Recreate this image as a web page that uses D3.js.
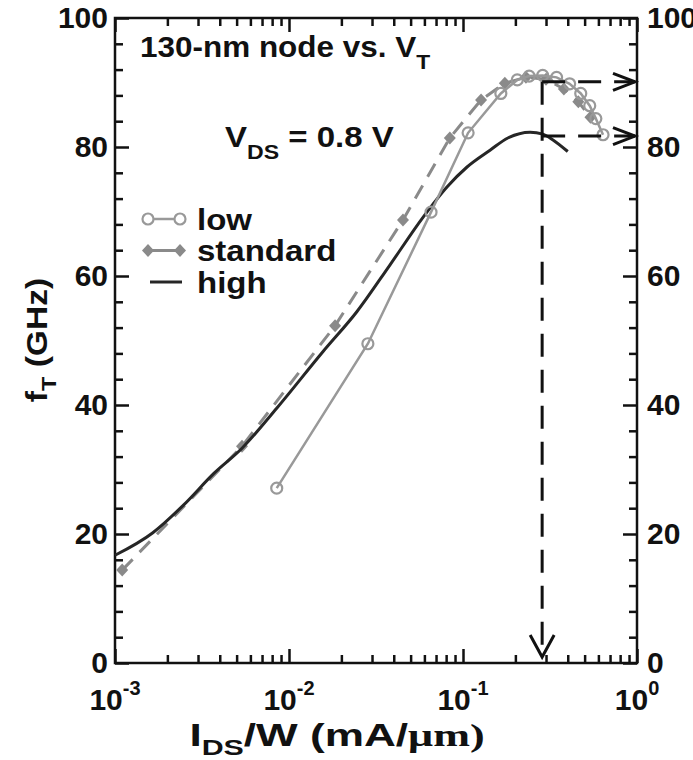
<!DOCTYPE html>
<html>
<head>
<meta charset="utf-8">
<script src="https://cdn.jsdelivr.net/npm/d3@7"></script>
<style>
  body { margin: 0; background: #fff; }
  svg text { font-family: "Liberation Sans", Arial, sans-serif; font-weight: bold; fill: #111; }
</style>
</head>
<body>
<svg width="693" height="760"></svg>
<script>
// ---- data ----
// low V_T : open circles, solid grey line
var lowI  = [0.0085, 0.0284, 0.0655, 0.107, 0.165, 0.205, 0.24, 0.287, 0.345, 0.41, 0.475, 0.535, 0.58, 0.638];
var lowF  = [27.1, 49.5, 69.9, 82.2, 88.3, 90.4, 91.0, 91.1, 90.8, 89.8, 88.3, 86.4, 84.4, 81.9];
// standard V_T : filled diamonds, dashed grey line
var stdI  = [0.0011, 0.00537, 0.0184, 0.0452, 0.084, 0.127, 0.174, 0.23, 0.30, 0.38, 0.46, 0.54];
var stdF  = [14.4, 33.6, 52.3, 68.7, 81.4, 87.3, 89.9, 90.8, 90.5, 89.0, 87.0, 84.6];
// high V_T : dark solid line, no markers
var highI = [0.001, 0.00165, 0.0025, 0.0037, 0.00537, 0.0085, 0.0157, 0.0246, 0.038, 0.0589, 0.0809, 0.1055, 0.143, 0.181, 0.243, 0.288, 0.329, 0.40];
var highF = [16.7, 20.2, 24.6, 29.4, 33.3, 39.5, 48.3, 54.5, 61.7, 69.1, 73.8, 76.9, 79.5, 81.4, 82.3, 82.0, 81.1, 79.3];

// optimum current density and the two peak fT values marked by arrows
var optI = 0.285, peakLow = 90.1, peakHigh = 81.7;

var xMajor = [1e-3, 1e-2, 1e-1, 1];
var xExp   = ["-3", "-2", "-1", "0"];
var yMajor = [0, 20, 40, 60, 80, 100];
var legendNames = ["low", "standard", "high"];

// ---- layout ----
var svg = d3.select("svg"),
    margin = {top: 18, right: 56, bottom: 97, left: 115},
    width = +svg.attr("width") - margin.left - margin.right,
    height = +svg.attr("height") - margin.top - margin.bottom;

var x = d3.scaleLog().domain([1e-3, 1]).range([0, width]),
    y = d3.scaleLinear().domain([0, 100]).range([height, 0]);

var g = svg.append("g").attr("transform", "translate(" + margin.left + "," + margin.top + ")");

// minor tick values
var xMinor = [];
xMajor.slice(0, 3).forEach(function(d) { for (var k = 2; k <= 9; k++) xMinor.push(d * k); });
var yMinor = d3.range(0, 101, 4).filter(function(d) { return d % 20 !== 0; });

function styleAxis(sel) {
  sel.select(".domain").remove();
  sel.selectAll("line").attr("stroke", "#111").attr("stroke-width", 2.5);
  sel.selectAll("text").style("font-size", "30px");
}

// bottom + top
g.append("g").attr("transform", "translate(0," + height + ")")
  .call(d3.axisBottom(x).tickValues(xMajor).tickSize(-14).tickFormat("")).call(styleAxis);
g.append("g").attr("transform", "translate(0," + height + ")")
  .call(d3.axisBottom(x).tickValues(xMinor).tickSize(-8).tickFormat("")).call(styleAxis);
g.append("g")
  .call(d3.axisTop(x).tickValues(xMajor).tickSize(-14).tickFormat("")).call(styleAxis);
g.append("g")
  .call(d3.axisTop(x).tickValues(xMinor).tickSize(-8).tickFormat("")).call(styleAxis);

// left + right
g.append("g")
  .call(d3.axisLeft(y).tickValues(yMajor).tickSize(-14).tickPadding(7)).call(styleAxis);
g.append("g")
  .call(d3.axisLeft(y).tickValues(yMinor).tickSize(-8).tickFormat("")).call(styleAxis);
g.append("g").attr("transform", "translate(" + width + ",0)")
  .call(d3.axisRight(y).tickValues(yMajor).tickSize(-14).tickPadding(10)).call(styleAxis);
g.append("g").attr("transform", "translate(" + width + ",0)")
  .call(d3.axisRight(y).tickValues(yMinor).tickSize(-8).tickFormat("")).call(styleAxis);

// frame
g.append("rect").attr("width", width).attr("height", height)
  .attr("fill", "none").attr("stroke", "#111").attr("stroke-width", 2.5);

// x tick labels 10^n
var xl = g.selectAll(".xlab").data(xMajor).enter().append("text")
  .attr("class", "xlab")
  .attr("x", function(d) { return x(d); })
  .attr("y", height + 47)
  .attr("text-anchor", "middle")
  .style("font-size", "30px");
xl.append("tspan").text("10");
xl.append("tspan").attr("dy", -15).style("font-size", "20px").text(function(d, i) { return xExp[i]; });

// ---- series ----
function pts(I, F) { return I.map(function(d, i) { return [d, F[i]]; }); }
var lowData = pts(lowI, lowF), stdData = pts(stdI, stdF), highData = pts(highI, highF);

var straight = d3.line().x(function(d) { return x(d[0]); }).y(function(d) { return y(d[1]); });
var smooth = d3.line().curve(d3.curveMonotoneX).x(function(d) { return x(d[0]); }).y(function(d) { return y(d[1]); });

var cLow = "#999", cStd = "#8a8a8a", cHigh = "#262626";

g.append("path").datum(stdData).attr("d", straight)
  .attr("fill", "none").attr("stroke", cStd).attr("stroke-width", 3).attr("stroke-dasharray", "15,10");
var diamond = "M0,-6.5L6,0L0,6.5L-6,0Z";
g.selectAll(".dia").data(stdData).enter().append("path")
  .attr("class", "dia").attr("d", diamond).attr("fill", cStd)
  .attr("transform", function(d) { return "translate(" + x(d[0]) + "," + y(d[1]) + ")"; });

g.append("path").datum(highData).attr("d", smooth)
  .attr("fill", "none").attr("stroke", cHigh).attr("stroke-width", 3);

g.append("path").datum(lowData).attr("d", straight)
  .attr("fill", "none").attr("stroke", cLow).attr("stroke-width", 2.5);
g.selectAll(".circ").data(lowData).enter().append("circle")
  .attr("class", "circ").attr("r", 5.5)
  .attr("cx", function(d) { return x(d[0]); }).attr("cy", function(d) { return y(d[1]); })
  .attr("fill", "none").attr("stroke", cLow).attr("stroke-width", 2.2);

// ---- arrows ----
var ax = x(optI), aRight = width - 2;
function dashed(x1, y1, x2, y2) {
  g.append("line").attr("x1", x1).attr("y1", y1).attr("x2", x2).attr("y2", y2)
    .attr("stroke", "#111").attr("stroke-width", 3).attr("stroke-dasharray", "23,13");
}
function head(tx, ty, dx, dy, ox, oy) {
  g.append("path")
    .attr("d", "M" + (tx - dx + ox) + "," + (ty - dy + oy) + "L" + tx + "," + ty + "L" + (tx - dx - ox) + "," + (ty - dy - oy))
    .attr("fill", "none").attr("stroke", "#111").attr("stroke-width", 3);
}
dashed(ax, y(peakLow), ax, height - 6);
head(ax, height - 6, 0, 22, 12, 0);
[peakLow, peakHigh].forEach(function(v) {
  dashed(ax, y(v), aRight, y(v));
  head(aRight, y(v), 22, 0, 0, 8.5);
});

// text that is a little wider than the installed fonts: stretch horizontally
function wideText(parent, tx, ty, sx, size, anchor) {
  return parent.append("g").attr("transform", "translate(" + tx + "," + ty + ") scale(" + sx + ",1)")
    .append("text").attr("text-anchor", anchor || "start").style("font-size", size + "px");
}

// ---- annotations ----
var t1 = wideText(g, 25, 39, 1.085, 29);
t1.append("tspan").text("130-nm node vs. V");
t1.append("tspan").attr("dy", 12).style("font-size", "21px").text("T");

var t2 = wideText(g, 110, 129, 1.1, 30);
t2.append("tspan").text("V");
t2.append("tspan").attr("dy", 12).style("font-size", "21px").text("DS");
t2.append("tspan").attr("dy", -12).text(" = 0.8 V");

// ---- legend ----
var lg = g.append("g").attr("transform", "translate(33,201)");
var rowH = 31.5;
lg.append("line").attr("x1", 0).attr("x2", 32).attr("stroke", cLow).attr("stroke-width", 2.5);
lg.selectAll(".lc").data([0, 32]).enter().append("circle").attr("cx", function(d) { return d; })
  .attr("r", 5.5).attr("fill", "#fff").attr("stroke", cLow).attr("stroke-width", 2.2);
lg.append("line").attr("x1", 0).attr("x2", 32).attr("y1", rowH).attr("y2", rowH).attr("stroke", cStd).attr("stroke-width", 3);
lg.selectAll(".ld").data([0, 32]).enter().append("path").attr("d", diamond).attr("fill", cStd)
  .attr("transform", function(d) { return "translate(" + d + "," + rowH + ")"; });
lg.append("line").attr("x1", 2).attr("x2", 34).attr("y1", 2 * rowH).attr("y2", 2 * rowH).attr("stroke", cHigh).attr("stroke-width", 3);
legendNames.forEach(function(name, i) {
  wideText(lg, 49, i * rowH, 1.1, 30).attr("dy", "0.35em").text(name);
});

// ---- axis titles ----
var xt = wideText(svg, 337, 746, 1.38, 32, "middle");
xt.append("tspan").text("I");
xt.append("tspan").attr("dy", 9).style("font-size", "22px").text("DS");
xt.append("tspan").attr("dy", -9).text("/W (mA/");
xt.append("tspan").style("font-family", "'Liberation Serif', 'Times New Roman', serif").text("\u03bcm)");

var yt = svg.append("g").attr("transform", "translate(47,340) rotate(-90) scale(1.12,1)")
  .append("text").attr("text-anchor", "middle").style("font-size", "30px");
yt.append("tspan").text("f");
yt.append("tspan").attr("dy", 9).style("font-size", "21px").text("T");
yt.append("tspan").attr("dy", -9).text("  (GHz)");
</script>
</body>
</html>
